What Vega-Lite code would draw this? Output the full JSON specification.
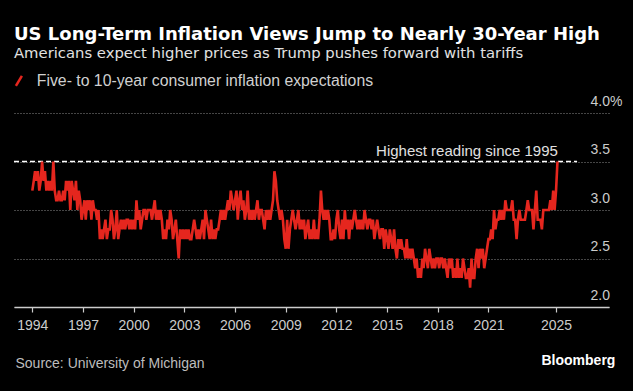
{
"$schema": "https://vega.github.io/schema/vega-lite/v6.json",
"background": "#000000",
"autosize": {"type": "none"},
"width": 595,
"height": 194,
"padding": {"left": 14, "top": 113, "right": 24, "bottom": 84},
"title": {
  "text": "US Long-Term Inflation Views Jump to Nearly 30-Year High",
  "subtitle": "Americans expect higher prices as Trump pushes forward with tariffs",
  "anchor": "start", "frame": "group", "offset": 12,
  "font": "DejaVu Sans", "fontSize": 18, "fontWeight": "bold", "color": "#ffffff",
  "subtitleFont": "DejaVu Sans", "subtitleFontSize": 14.8, "subtitleColor": "#e2e2e2", "subtitlePadding": 2
},
"config": {"view": {"stroke": null}},
"datasets": {
"series": [
{"date":"1994-01-01","value":3.2},{"date":"1994-02-01","value":3.3},{"date":"1994-03-01","value":3.4},{"date":"1994-04-01","value":3.3},{"date":"1994-05-01","value":3.4},{"date":"1994-06-01","value":3.2},{"date":"1994-07-01","value":3.3},{"date":"1994-08-01","value":3.5},{"date":"1994-09-01","value":3.3},{"date":"1994-10-01","value":3.4},{"date":"1994-11-01","value":3.2},{"date":"1994-12-01","value":3.3},
{"date":"1995-01-01","value":3.2},{"date":"1995-02-01","value":3.3},{"date":"1995-03-01","value":3.2},{"date":"1995-04-01","value":3.5},{"date":"1995-05-01","value":3.2},{"date":"1995-06-01","value":3.1},{"date":"1995-07-01","value":3.1},{"date":"1995-08-01","value":3.2},{"date":"1995-09-01","value":3.1},{"date":"1995-10-01","value":3.1},{"date":"1995-11-01","value":3.2},{"date":"1995-12-01","value":3.1},
{"date":"1996-01-01","value":3.3},{"date":"1996-02-01","value":3.2},{"date":"1996-03-01","value":3.3},{"date":"1996-04-01","value":3.0},{"date":"1996-05-01","value":3.3},{"date":"1996-06-01","value":3.2},{"date":"1996-07-01","value":3.1},{"date":"1996-08-01","value":3.3},{"date":"1996-09-01","value":3.0},{"date":"1996-10-01","value":3.2},{"date":"1996-11-01","value":3.1},{"date":"1996-12-01","value":2.9},
{"date":"1997-01-01","value":3.0},{"date":"1997-02-01","value":3.1},{"date":"1997-03-01","value":2.9},{"date":"1997-04-01","value":3.1},{"date":"1997-05-01","value":3.0},{"date":"1997-06-01","value":3.1},{"date":"1997-07-01","value":2.9},{"date":"1997-08-01","value":3.1},{"date":"1997-09-01","value":3.0},{"date":"1997-10-01","value":3.0},{"date":"1997-11-01","value":2.9},{"date":"1997-12-01","value":3.0},
{"date":"1998-01-01","value":2.7},{"date":"1998-02-01","value":2.8},{"date":"1998-03-01","value":2.7},{"date":"1998-04-01","value":2.8},{"date":"1998-05-01","value":2.9},{"date":"1998-06-01","value":2.7},{"date":"1998-07-01","value":2.8},{"date":"1998-08-01","value":2.8},{"date":"1998-09-01","value":3.0},{"date":"1998-10-01","value":2.9},{"date":"1998-11-01","value":2.7},{"date":"1998-12-01","value":2.8},
{"date":"1999-01-01","value":3.0},{"date":"1999-02-01","value":2.7},{"date":"1999-03-01","value":2.8},{"date":"1999-04-01","value":2.9},{"date":"1999-05-01","value":2.8},{"date":"1999-06-01","value":2.9},{"date":"1999-07-01","value":2.8},{"date":"1999-08-01","value":2.9},{"date":"1999-09-01","value":2.9},{"date":"1999-10-01","value":2.8},{"date":"1999-11-01","value":2.9},{"date":"1999-12-01","value":2.8},
{"date":"2000-01-01","value":2.9},{"date":"2000-02-01","value":2.8},{"date":"2000-03-01","value":3.1},{"date":"2000-04-01","value":2.9},{"date":"2000-05-01","value":3.0},{"date":"2000-06-01","value":2.8},{"date":"2000-07-01","value":2.9},{"date":"2000-08-01","value":3.0},{"date":"2000-09-01","value":3.0},{"date":"2000-10-01","value":2.9},{"date":"2000-11-01","value":3.0},{"date":"2000-12-01","value":3.0},
{"date":"2001-01-01","value":3.0},{"date":"2001-02-01","value":2.9},{"date":"2001-03-01","value":3.0},{"date":"2001-04-01","value":3.1},{"date":"2001-05-01","value":2.9},{"date":"2001-06-01","value":3.0},{"date":"2001-07-01","value":2.9},{"date":"2001-08-01","value":3.0},{"date":"2001-09-01","value":2.9},{"date":"2001-10-01","value":2.7},{"date":"2001-11-01","value":2.8},{"date":"2001-12-01","value":2.7},
{"date":"2002-01-01","value":2.9},{"date":"2002-02-01","value":2.8},{"date":"2002-03-01","value":3.0},{"date":"2002-04-01","value":2.9},{"date":"2002-05-01","value":2.7},{"date":"2002-06-01","value":2.8},{"date":"2002-07-01","value":2.9},{"date":"2002-08-01","value":2.7},{"date":"2002-09-01","value":2.5},{"date":"2002-10-01","value":2.8},{"date":"2002-11-01","value":2.7},{"date":"2002-12-01","value":2.8},
{"date":"2003-01-01","value":2.7},{"date":"2003-02-01","value":2.8},{"date":"2003-03-01","value":2.7},{"date":"2003-04-01","value":2.8},{"date":"2003-05-01","value":2.7},{"date":"2003-06-01","value":2.7},{"date":"2003-07-01","value":2.8},{"date":"2003-08-01","value":2.9},{"date":"2003-09-01","value":2.8},{"date":"2003-10-01","value":2.7},{"date":"2003-11-01","value":2.8},{"date":"2003-12-01","value":2.7},
{"date":"2004-01-01","value":2.8},{"date":"2004-02-01","value":2.9},{"date":"2004-03-01","value":2.7},{"date":"2004-04-01","value":3.0},{"date":"2004-05-01","value":2.9},{"date":"2004-06-01","value":2.8},{"date":"2004-07-01","value":2.7},{"date":"2004-08-01","value":2.9},{"date":"2004-09-01","value":2.7},{"date":"2004-10-01","value":2.8},{"date":"2004-11-01","value":2.7},{"date":"2004-12-01","value":2.8},
{"date":"2005-01-01","value":2.8},{"date":"2005-02-01","value":2.9},{"date":"2005-03-01","value":3.0},{"date":"2005-04-01","value":2.9},{"date":"2005-05-01","value":3.0},{"date":"2005-06-01","value":2.9},{"date":"2005-07-01","value":3.0},{"date":"2005-08-01","value":3.1},{"date":"2005-09-01","value":3.0},{"date":"2005-10-01","value":3.2},{"date":"2005-11-01","value":3.1},{"date":"2005-12-01","value":3.0},
{"date":"2006-01-01","value":3.1},{"date":"2006-02-01","value":3.2},{"date":"2006-03-01","value":2.9},{"date":"2006-04-01","value":3.1},{"date":"2006-05-01","value":3.2},{"date":"2006-06-01","value":3.0},{"date":"2006-07-01","value":3.1},{"date":"2006-08-01","value":2.9},{"date":"2006-09-01","value":3.0},{"date":"2006-10-01","value":3.2},{"date":"2006-11-01","value":2.9},{"date":"2006-12-01","value":3.0},
{"date":"2007-01-01","value":2.9},{"date":"2007-02-01","value":3.0},{"date":"2007-03-01","value":2.9},{"date":"2007-04-01","value":3.0},{"date":"2007-05-01","value":3.1},{"date":"2007-06-01","value":2.9},{"date":"2007-07-01","value":3.0},{"date":"2007-08-01","value":3.0},{"date":"2007-09-01","value":2.9},{"date":"2007-10-01","value":2.8},{"date":"2007-11-01","value":3.0},{"date":"2007-12-01","value":2.9},
{"date":"2008-01-01","value":3.0},{"date":"2008-02-01","value":2.9},{"date":"2008-03-01","value":3.0},{"date":"2008-04-01","value":3.1},{"date":"2008-05-01","value":3.4},{"date":"2008-06-01","value":3.3},{"date":"2008-07-01","value":3.1},{"date":"2008-08-01","value":3.0},{"date":"2008-09-01","value":2.9},{"date":"2008-10-01","value":3.0},{"date":"2008-11-01","value":2.9},{"date":"2008-12-01","value":2.7},
{"date":"2009-01-01","value":2.6},{"date":"2009-02-01","value":2.9},{"date":"2009-03-01","value":2.6},{"date":"2009-04-01","value":2.8},{"date":"2009-05-01","value":2.9},{"date":"2009-06-01","value":3.0},{"date":"2009-07-01","value":2.9},{"date":"2009-08-01","value":2.8},{"date":"2009-09-01","value":2.9},{"date":"2009-10-01","value":3.0},{"date":"2009-11-01","value":2.8},{"date":"2009-12-01","value":2.9},
{"date":"2010-01-01","value":2.8},{"date":"2010-02-01","value":2.9},{"date":"2010-03-01","value":2.7},{"date":"2010-04-01","value":2.8},{"date":"2010-05-01","value":2.9},{"date":"2010-06-01","value":2.7},{"date":"2010-07-01","value":2.8},{"date":"2010-08-01","value":2.7},{"date":"2010-09-01","value":2.9},{"date":"2010-10-01","value":2.7},{"date":"2010-11-01","value":2.8},{"date":"2010-12-01","value":2.7},
{"date":"2011-01-01","value":2.9},{"date":"2011-02-01","value":3.2},{"date":"2011-03-01","value":3.0},{"date":"2011-04-01","value":2.9},{"date":"2011-05-01","value":3.0},{"date":"2011-06-01","value":2.9},{"date":"2011-07-01","value":3.0},{"date":"2011-08-01","value":2.9},{"date":"2011-09-01","value":2.7},{"date":"2011-10-01","value":2.7},{"date":"2011-11-01","value":2.8},{"date":"2011-12-01","value":2.7},
{"date":"2012-01-01","value":2.9},{"date":"2012-02-01","value":3.0},{"date":"2012-03-01","value":2.8},{"date":"2012-04-01","value":2.7},{"date":"2012-05-01","value":2.9},{"date":"2012-06-01","value":2.7},{"date":"2012-07-01","value":3.0},{"date":"2012-08-01","value":2.8},{"date":"2012-09-01","value":2.9},{"date":"2012-10-01","value":2.7},{"date":"2012-11-01","value":2.9},{"date":"2012-12-01","value":2.8},
{"date":"2013-01-01","value":2.9},{"date":"2013-02-01","value":3.0},{"date":"2013-03-01","value":2.9},{"date":"2013-04-01","value":2.8},{"date":"2013-05-01","value":2.9},{"date":"2013-06-01","value":2.8},{"date":"2013-07-01","value":2.9},{"date":"2013-08-01","value":2.8},{"date":"2013-09-01","value":3.0},{"date":"2013-10-01","value":2.9},{"date":"2013-11-01","value":2.8},{"date":"2013-12-01","value":2.9},
{"date":"2014-01-01","value":2.9},{"date":"2014-02-01","value":2.8},{"date":"2014-03-01","value":2.9},{"date":"2014-04-01","value":2.7},{"date":"2014-05-01","value":2.8},{"date":"2014-06-01","value":2.9},{"date":"2014-07-01","value":2.8},{"date":"2014-08-01","value":2.7},{"date":"2014-09-01","value":2.8},{"date":"2014-10-01","value":2.8},{"date":"2014-11-01","value":2.6},{"date":"2014-12-01","value":2.8},
{"date":"2015-01-01","value":2.7},{"date":"2015-02-01","value":2.6},{"date":"2015-03-01","value":2.8},{"date":"2015-04-01","value":2.7},{"date":"2015-05-01","value":2.6},{"date":"2015-06-01","value":2.8},{"date":"2015-07-01","value":2.6},{"date":"2015-08-01","value":2.5},{"date":"2015-09-01","value":2.7},{"date":"2015-10-01","value":2.6},{"date":"2015-11-01","value":2.7},{"date":"2015-12-01","value":2.6},
{"date":"2016-01-01","value":2.6},{"date":"2016-02-01","value":2.5},{"date":"2016-03-01","value":2.7},{"date":"2016-04-01","value":2.5},{"date":"2016-05-01","value":2.6},{"date":"2016-06-01","value":2.5},{"date":"2016-07-01","value":2.6},{"date":"2016-08-01","value":2.5},{"date":"2016-09-01","value":2.4},{"date":"2016-10-01","value":2.5},{"date":"2016-11-01","value":2.3},{"date":"2016-12-01","value":2.4},
{"date":"2017-01-01","value":2.3},{"date":"2017-02-01","value":2.5},{"date":"2017-03-01","value":2.4},{"date":"2017-04-01","value":2.6},{"date":"2017-05-01","value":2.5},{"date":"2017-06-01","value":2.4},{"date":"2017-07-01","value":2.6},{"date":"2017-08-01","value":2.5},{"date":"2017-09-01","value":2.4},{"date":"2017-10-01","value":2.5},{"date":"2017-11-01","value":2.4},{"date":"2017-12-01","value":2.5},
{"date":"2018-01-01","value":2.5},{"date":"2018-02-01","value":2.4},{"date":"2018-03-01","value":2.5},{"date":"2018-04-01","value":2.5},{"date":"2018-05-01","value":2.4},{"date":"2018-06-01","value":2.5},{"date":"2018-07-01","value":2.4},{"date":"2018-08-01","value":2.3},{"date":"2018-09-01","value":2.5},{"date":"2018-10-01","value":2.4},{"date":"2018-11-01","value":2.5},{"date":"2018-12-01","value":2.3},
{"date":"2019-01-01","value":2.4},{"date":"2019-02-01","value":2.3},{"date":"2019-03-01","value":2.5},{"date":"2019-04-01","value":2.3},{"date":"2019-05-01","value":2.4},{"date":"2019-06-01","value":2.3},{"date":"2019-07-01","value":2.5},{"date":"2019-08-01","value":2.4},{"date":"2019-09-01","value":2.3},{"date":"2019-10-01","value":2.3},{"date":"2019-11-01","value":2.4},{"date":"2019-12-01","value":2.2},
{"date":"2020-01-01","value":2.5},{"date":"2020-02-01","value":2.3},{"date":"2020-03-01","value":2.3},{"date":"2020-04-01","value":2.5},{"date":"2020-05-01","value":2.6},{"date":"2020-06-01","value":2.4},{"date":"2020-07-01","value":2.6},{"date":"2020-08-01","value":2.5},{"date":"2020-09-01","value":2.6},{"date":"2020-10-01","value":2.4},{"date":"2020-11-01","value":2.5},{"date":"2020-12-01","value":2.6},
{"date":"2021-01-01","value":2.7},{"date":"2021-02-01","value":2.7},{"date":"2021-03-01","value":2.8},{"date":"2021-04-01","value":2.7},{"date":"2021-05-01","value":3.0},{"date":"2021-06-01","value":2.8},{"date":"2021-07-01","value":2.9},{"date":"2021-08-01","value":2.9},{"date":"2021-09-01","value":3.0},{"date":"2021-10-01","value":2.9},{"date":"2021-11-01","value":3.0},{"date":"2021-12-01","value":2.9},
{"date":"2022-01-01","value":3.1},{"date":"2022-02-01","value":3.0},{"date":"2022-03-01","value":3.0},{"date":"2022-04-01","value":3.0},{"date":"2022-05-01","value":3.0},{"date":"2022-06-01","value":3.1},{"date":"2022-07-01","value":2.9},{"date":"2022-08-01","value":2.9},{"date":"2022-09-01","value":2.7},{"date":"2022-10-01","value":2.9},{"date":"2022-11-01","value":3.0},{"date":"2022-12-01","value":2.9},
{"date":"2023-01-01","value":2.9},{"date":"2023-02-01","value":2.9},{"date":"2023-03-01","value":2.9},{"date":"2023-04-01","value":3.0},{"date":"2023-05-01","value":3.1},{"date":"2023-06-01","value":3.0},{"date":"2023-07-01","value":3.0},{"date":"2023-08-01","value":3.0},{"date":"2023-09-01","value":2.8},{"date":"2023-10-01","value":3.0},{"date":"2023-11-01","value":3.2},{"date":"2023-12-01","value":2.9},
{"date":"2024-01-01","value":2.9},{"date":"2024-02-01","value":2.9},{"date":"2024-03-01","value":2.8},{"date":"2024-04-01","value":3.0},{"date":"2024-05-01","value":3.0},{"date":"2024-06-01","value":3.0},{"date":"2024-07-01","value":3.0},{"date":"2024-08-01","value":3.0},{"date":"2024-09-01","value":3.1},{"date":"2024-10-01","value":3.0},{"date":"2024-11-01","value":3.2},{"date":"2024-12-01","value":3.0},
{"date":"2025-01-01","value":3.2},{"date":"2025-02-01","value":3.5}
],
"highest": [{"start":"1992-12-01","end":"2026-04-01","anchor":"2025-02-10","value":3.5,"label":"Highest reading since 1995"}]
},
"layer": [
  {
    "data": {"name": "highest"},
    "mark": {"type": "rule", "color": "#ffffff", "strokeWidth": 1.6, "strokeDash": [5, 3]},
    "encoding": {
      "x": {"field": "start", "type": "temporal"},
      "x2": {"field": "end"},
      "y": {"field": "value", "type": "quantitative"}
    }
  },
  {
    "data": {"name": "series"},
    "mark": {"type": "line", "strokeWidth": 2.6},
    "encoding": {
      "x": {"field": "date", "type": "temporal",
        "scale": {"domain": [{"year": 1992, "month": 12, "date": 1}, {"year": 2028, "month": 2, "date": 20}]},
        "axis": {
          "values": [{"year": 1994}, {"year": 1997}, {"year": 2000}, {"year": 2003}, {"year": 2006}, {"year": 2009}, {"year": 2012}, {"year": 2015}, {"year": 2018}, {"year": 2021}, {"year": 2025}],
          "format": "%Y", "grid": false, "labelFlush": false, "labelOverlap": false,
          "labelFont": "Liberation Sans", "labelFontSize": 14, "labelColor": "#cccccc", "labelPadding": 6,
          "domainColor": "#cccccc", "domainWidth": 1.5, "tickColor": "#cccccc", "tickSize": 5, "tickWidth": 1.2,
          "title": "Source: University of Michigan", "titleFont": "Liberation Sans", "titleFontSize": 14, "titleFontWeight": "normal",
          "titleColor": "#bdbdbd", "titleAlign": "left", "titleAnchor": "start", "titleBaseline": "alphabetic", "titleX": 1, "titleY": 60
        }},
      "y": {"field": "value", "type": "quantitative",
        "scale": {"domain": [2, 4], "zero": false, "nice": false},
        "axis": {
          "orient": "right", "values": [2, 2.5, 3, 3.5, 4],
          "labelExpr": "datum.value == 4 ? '4.0%' : format(datum.value, '.1f')",
          "domain": false, "ticks": false, "tickSize": 0, "grid": true, "gridColor": "#8a8a8a", "gridDash": [1, 2], "gridWidth": 1,
          "labelAlign": "left", "labelBaseline": "alphabetic", "labelPadding": -19, "labelOffset": -8,
          "labelFont": "Liberation Sans", "labelFontSize": 14, "labelColor": "#cccccc",
          "title": "Bloomberg", "titleAngle": 0, "titleX": -68, "titleY": 251, "titleAlign": "left", "titleBaseline": "alphabetic",
          "titleFont": "Liberation Sans", "titleFontWeight": "bold", "titleFontSize": 14, "titleColor": "#ffffff"
        }},
      "color": {"datum": "Five- to 10-year consumer inflation expectations", "type": "nominal",
        "scale": {"range": ["#e5261e"]},
        "legend": {"orient": "none", "legendX": -3, "legendY": -40, "title": null, "padding": 0,
          "symbolType": "M-0.6,1L0.6,-1", "symbolSize": 100, "symbolStrokeWidth": 2.5, "symbolStrokeColor": "#e5261e", "symbolFillColor": "transparent",
          "labelFont": "Liberation Sans", "labelFontSize": 15.8, "labelColor": "#d0d0d0", "labelOffset": 10, "labelLimit": 500}}
    }
  },
  {
    "data": {"name": "highest"},
    "mark": {"type": "text", "align": "right", "baseline": "alphabetic", "dy": -6,
      "font": "Liberation Sans", "fontSize": 15, "color": "#e0e0e0"},
    "encoding": {
      "x": {"field": "anchor", "type": "temporal"},
      "y": {"field": "value", "type": "quantitative"},
      "text": {"field": "label"}
    }
  }
]
}
